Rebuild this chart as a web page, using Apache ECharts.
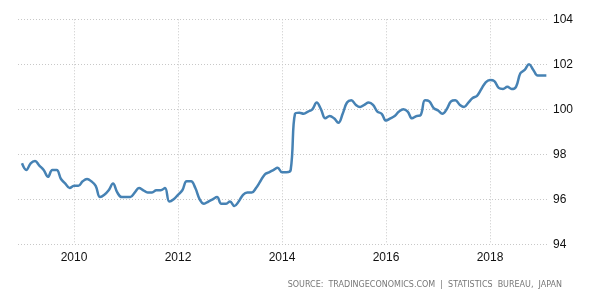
<!DOCTYPE html>
<html>
<head>
<meta charset="utf-8">
<script src="https://cdn.jsdelivr.net/npm/echarts@6/dist/echarts.min.js"></script>
<style>html,body{margin:0;padding:0;background:#fff}#c{width:600px;height:300px}</style>
</head>
<body>
<div id="c"></div>
<script>
// Monthly series, Jan 2009 .. Feb 2019
const startYear = 2009;
const values = [
  97.6, 97.3, 97.6, 97.7, 97.5, 97.3, 97.0, 97.3, 97.3, 96.9, 96.7, 96.5,
  96.6, 96.6, 96.8, 96.9, 96.8, 96.6, 96.1, 96.2, 96.4, 96.7, 96.3, 96.1,
  96.1, 96.1, 96.3, 96.5, 96.4, 96.3, 96.3, 96.4, 96.4, 96.5, 95.9, 96.0,
  96.2, 96.4, 96.8, 96.8, 96.5, 96.0, 95.8, 95.9, 96.0, 96.1, 95.8, 95.8,
  95.9, 95.7, 95.9, 96.2, 96.3, 96.3, 96.5, 96.8, 97.1, 97.2, 97.3, 97.4,
  97.2, 97.2, 97.3, 99.8, 99.85, 99.8, 99.9, 100.0, 100.3, 100.0, 99.6, 99.7,
  99.6, 99.4, 99.8, 100.3, 100.4, 100.2, 100.1, 100.2, 100.3, 100.2, 99.9, 99.8,
  99.5, 99.6, 99.7, 99.9, 100.0, 99.9, 99.6, 99.7, 99.75, 100.4, 100.35, 100.05,
  99.95, 99.8, 100.0, 100.35, 100.4, 100.2, 100.1, 100.3, 100.5, 100.6, 100.9, 101.2,
  101.3, 101.25, 100.95, 100.9, 101.0, 100.9, 101.0, 101.6, 101.75, 102.0, 101.75, 101.5,
  101.5, 101.5
];
const xTickYears = [2010, 2012, 2014, 2016, 2018];
const yTicks = [94, 96, 98, 100, 102, 104];
const sourceText = 'SOURCE:  TRADINGECONOMICS.COM  |  STATISTICS  BUREAU,  JAPAN';

const seriesData = values.map((v, i) => [startYear + i / 12, v]);

const chart = echarts.init(document.getElementById('c'), null, {renderer: 'canvas'});
chart.setOption({
  animation: false,
  backgroundColor: '#ffffff',
  grid: {left: 18, right: 52, top: 19.3, bottom: 55.7, containLabel: false},
  xAxis: {
    type: 'value',
    min: 2008.923,
    max: 2019.115,
    axisLine: {show: false},
    axisTick: {show: false, customValues: xTickYears},
    axisLabel: {
      customValues: xTickYears,
      formatter: v => String(Math.round(v)),
      color: '#111',
      fontFamily: 'Liberation Sans, Arial, sans-serif',
      fontSize: 12,
      margin: 7
    },
    splitLine: {show: true, lineStyle: {color: '#c8c8c8', type: [1, 2], width: 1}}
  },
  yAxis: {
    type: 'value',
    position: 'right',
    min: yTicks[0],
    max: yTicks[yTicks.length - 1],
    interval: 2,
    axisLine: {show: false},
    axisTick: {show: false},
    axisLabel: {
      color: '#111',
      fontFamily: 'Liberation Sans, Arial, sans-serif',
      fontSize: 12,
      margin: 5
    },
    splitLine: {show: true, lineStyle: {color: '#c8c8c8', type: [1, 2], width: 1}}
  },
  series: [{
    type: 'line',
    data: seriesData,
    smooth: 0.4,
    showSymbol: false,
    symbol: 'none',
    lineStyle: {color: '#4682B4', width: 2.5},
    itemStyle: {color: '#4682B4'}
  }],
  graphic: [{
    type: 'text',
    right: 38,
    top: 281,
    style: {
      text: sourceText,
      fill: '#777',
      fontFamily: 'DejaVu Sans, Verdana, sans-serif',
      fontSize: 8
    }
  }]
});
</script>
</body>
</html>
